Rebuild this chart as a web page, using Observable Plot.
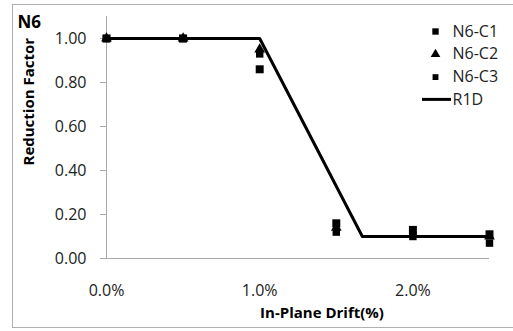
<!DOCTYPE html>
<html>
<head>
<meta charset="utf-8">
<script src="https://cdn.jsdelivr.net/npm/d3@7"></script>
<script src="https://cdn.jsdelivr.net/npm/@observablehq/plot@0.6"></script>
<style>
  html, body { margin: 0; padding: 0; background: #fff; }
  #chart { width: 513px; height: 331px; overflow: hidden; }
</style>
</head>
<body>
<div id="chart"></div>
<script>
// Data
const drift = [0, 0.5, 1.0, 1.5, 2.0, 2.5];
const c1 = [1.00, 1.00, 0.86, 0.16, 0.13, 0.11];
const c2 = [1.00, 1.00, 0.95, 0.14, 0.11, 0.10];
const c3 = [1.00, 1.00, 0.93, 0.12, 0.10, 0.07];
const r1dX = [0, 1.0, 1.67, 2.5];
const r1dY = [1.0, 1.0, 0.10, 0.10];
const yTicks = [0, 0.2, 0.4, 0.6, 0.8, 1.0];
const xTicks = [0, 1.0, 2.0];
const seriesNames = ["N6-C1", "N6-C2", "N6-C3", "R1D"];
const seriesSymbols = ["square", "triangle", "square", null];

const pts = (vals, name) => drift.map((d, i) => ({x: d, y: vals[i], s: name}));
const p1 = pts(c1, "N6-C1"), p2 = pts(c2, "N6-C2"), p3 = pts(c3, "N6-C3");
const line = r1dX.map((d, i) => ({x: d, y: r1dY[i]}));

const font = "'Open Sans', sans-serif";
const W = 513, H = 331;
const mL = 106, mR = 24, mT = 16, mB = 73;
const rowH = 22.8, row0 = 15;

const legendMarks = seriesNames.flatMap((name, i) => {
  const dy = row0 + i * rowH;
  const marks = [
    Plot.text([name], {frameAnchor: "top-right", dx: -37, dy, textAnchor: "start",
      lineAnchor: "middle", fontSize: 16, fill: "#222"})
  ];
  if (seriesSymbols[i]) {
    marks.push(Plot.dot([name], {frameAnchor: "top-right", dx: -54, dy,
      symbol: seriesSymbols[i], r: i === 2 ? 3.3 : 3.6, fill: "#000"}));
  }
  return marks;
});

const chart = Plot.plot({
  width: W, height: H,
  marginLeft: mL, marginRight: mR, marginTop: mT, marginBottom: mB,
  style: {fontFamily: font, fontSize: "16px", color: "#222", background: "#fff", overflow: "visible"},
  x: {domain: [0, 2.5]},
  y: {domain: [0, 1.1]},
  marks: [
    Plot.ruleX([0], {y1: 0, y2: 1.1, stroke: "#a8a8a8", strokeWidth: 1}),
    Plot.ruleY([0], {stroke: "#a8a8a8", strokeWidth: 1}),
    Plot.axisY({ticks: yTicks, tickFormat: d => d.toFixed(2), tickSize: 6, tickPadding: 14,
      stroke: "#a8a8a8", fill: "#222", label: null, fontSize: 16}),
    Plot.axisX({ticks: xTicks, tickFormat: d => d.toFixed(1) + "%", tickSize: 0, tickPadding: 26,
      fill: "#222", label: null, fontSize: 16}),
    Plot.line(line, {x: "x", y: "y", stroke: "#000", strokeWidth: 3}),
    Plot.dot(p2, {x: "x", y: "y", symbol: "triangle", r: 4, fill: "#000"}),
    Plot.dot(p3, {x: "x", y: "y", symbol: "square", r: 4.2, fill: "#000"}),
    Plot.dot(p1, {x: "x", y: "y", symbol: "square", r: 4.5, fill: "#000"}),
    // titles
    Plot.text(["N6"], {frameAnchor: "top-left", dx: -89, dy: 6, textAnchor: "start",
      lineAnchor: "middle", fontWeight: "bold", fontSize: 17, fill: "#000"}),
    Plot.text(["Reduction Factor"], {frameAnchor: "left", dx: -77, dy: 28, rotate: -90,
      fontWeight: "bold", fontSize: 15, fill: "#000"}),
    Plot.text(["In-Plane Drift(%)"], {frameAnchor: "bottom", dx: 24, dy: 59,
      fontWeight: "bold", fontSize: 15, fill: "#000"}),
    ...legendMarks
  ]
});

const svg = d3.select(chart);
const xs = chart.scale("x"), ys = chart.scale("y");
const fr = xs.range[1], ft = ys.range[1];
// legend line for R1D
svg.append("line")
  .attr("x1", fr - 67).attr("x2", fr - 38)
  .attr("y1", ft + row0 + 3 * rowH).attr("y2", ft + row0 + 3 * rowH)
  .attr("stroke", "#000").attr("stroke-width", 3);
// outer chart border
svg.insert("rect", ":first-child")
  .attr("x", 12.5).attr("y", 4.5).attr("width", 520).attr("height", 323)
  .attr("fill", "none").attr("stroke", "#b0b0b0");

document.getElementById("chart").appendChild(chart);
</script>
</body>
</html>
